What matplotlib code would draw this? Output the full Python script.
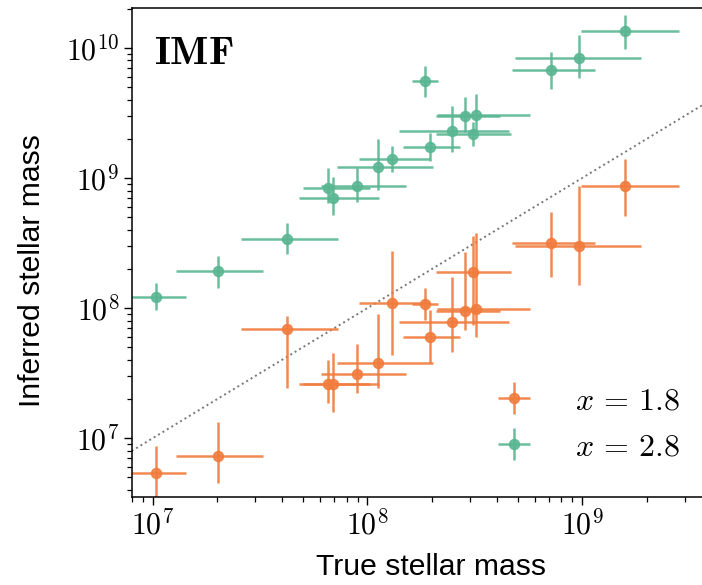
import numpy as np
import matplotlib
matplotlib.use('Agg')
import matplotlib.pyplot as plt
from matplotlib import ticker

plt.rcParams['font.family'] = ['Liberation Sans', 'DejaVu Sans']
plt.rcParams['mathtext.fontset'] = 'cm'

# true stellar mass (shared by both IMF slopes) and its range
true_mass = np.array([1.04e7, 2.01e7, 4.24e7, 6.55e7, 6.95e7, 8.99e7, 1.12e8, 1.30e8, 1.85e8,
                      1.96e8, 2.48e8, 2.86e8, 3.20e8, 3.09e8, 7.17e8, 9.71e8, 1.58e9])
true_lo = np.array([7.6e6, 1.29e7, 2.58e7, 5.02e7, 4.81e7, 6.09e7, 7.26e7, 9.16e7, 1.61e8,
                    1.46e8, 1.41e8, 2.09e8, 2.11e8, 2.09e8, 4.73e8, 4.89e8, 9.82e8])
true_hi = np.array([1.43e7, 3.28e7, 7.27e7, 1.03e8, 1.13e8, 1.52e8, 2.02e8, 1.96e8, 2.13e8,
                    2.71e8, 4.55e8, 4.16e8, 5.70e8, 4.68e8, 1.15e9, 1.87e9, 2.81e9])

# inferred mass, x = 1.8
inf_18 = np.array([5.38e6, 7.35e6, 6.87e7, 2.60e7, 2.60e7, 3.10e7, 3.77e7, 1.09e8, 1.07e8,
                   5.97e7, 7.86e7, 9.50e7, 9.79e7, 1.90e8, 3.15e8, 3.00e8, 8.71e8])
inf_18_lo = np.array([3.07e6, 4.56e6, 2.42e7, 1.86e7, 1.60e7, 2.22e7, 2.42e7, 4.36e7, 8.10e7,
                      3.77e7, 4.58e7, 6.79e7, 5.97e7, 7.42e7, 1.72e8, 1.50e8, 5.10e8])
inf_18_hi = np.array([8.78e6, 1.33e7, 8.70e7, 3.99e7, 4.50e7, 5.27e7, 9.01e7, 2.76e8, 1.43e8,
                      9.67e7, 1.72e8, 2.71e8, 3.75e8, 3.58e8, 5.44e8, 8.67e8, 1.41e9])

# inferred mass, x = 2.8
inf_28 = np.array([1.21e8, 1.94e8, 3.38e8, 8.36e8, 6.97e8, 8.71e8, 1.21e9, 1.40e9, 5.55e9,
                   1.72e9, 2.29e9, 2.99e9, 3.03e9, 2.17e9, 6.74e9, 8.38e9, 1.35e10])
inf_28_lo = np.array([9.67e7, 1.42e8, 2.60e8, 6.38e8, 5.19e8, 6.56e8, 8.07e8, 1.12e9, 4.20e9,
                      1.36e9, 1.59e9, 2.26e9, 2.33e9, 1.76e9, 4.82e9, 5.88e9, 9.72e9])
inf_28_hi = np.array([1.57e8, 2.53e8, 4.53e8, 1.20e9, 1.01e9, 1.20e9, 1.99e9, 1.76e9, 7.23e9,
                      2.22e9, 3.58e9, 4.16e9, 4.39e9, 2.70e9, 9.22e9, 1.25e10, 1.78e10])

orange = '#f07c3e'
green = '#5ab692'

fig = plt.figure(figsize=(7.02, 5.85), dpi=100, facecolor='white')
ax = fig.add_axes([0.1876, 0.1504, 0.8135, 0.8359])

xerr = [true_mass - true_lo, true_hi - true_mass]
ax.plot([8e6, 4e9], [8e6, 4e9], ':', color='#777777', lw=1.4, zorder=1)
ax.errorbar(true_mass, inf_18, xerr=xerr, yerr=[inf_18 - inf_18_lo, inf_18_hi - inf_18],
            fmt='o', color=orange, ms=7.2, elinewidth=1.8, alpha=0.9, capsize=0,
            label=r'$x\,=\,1.8$')
ax.errorbar(true_mass, inf_28, xerr=xerr, yerr=[inf_28 - inf_28_lo, inf_28_hi - inf_28],
            fmt='o', color=green, ms=7.2, elinewidth=1.8, alpha=0.9, capsize=0,
            label=r'$x\,=\,2.8$')

ax.set_xscale('log')
ax.set_yscale('log')
ax.set_xlim(8e6, 3.64e9)
ax.set_ylim(3.54e6, 2.02e10)

fmt = ticker.FuncFormatter(lambda v, p: r'$10^{%d}$' % round(np.log10(v)))
for axis in (ax.xaxis, ax.yaxis):
    axis.set_major_locator(ticker.LogLocator(base=10))
    axis.set_major_formatter(fmt)
    axis.set_minor_locator(ticker.LogLocator(base=10, subs=np.arange(2, 10)))
    axis.set_minor_formatter(ticker.NullFormatter())
ax.tick_params(which='major', length=6, width=1, labelsize=21.5, direction='out', pad=3)
ax.tick_params(which='minor', length=3.5, width=0.9, direction='out')
ax.spines['right'].set_visible(False)
for s in ('left', 'bottom', 'top'):
    ax.spines[s].set_linewidth(1.1)

ax.set_xlabel('True stellar mass', fontsize=21.7)
ax.set_ylabel('Inferred stellar mass', fontsize=21.7)
ax.xaxis.set_label_coords(0.524, -0.115)
ax.yaxis.set_label_coords(-0.15, 0.464)

ax.text(0.039, 0.8855, r'$\mathbf{IMF}$', transform=ax.transAxes, fontsize=29, va='baseline')

leg = ax.legend(loc='lower right', bbox_to_anchor=(0.983, 0.045), borderaxespad=0,
                frameon=False, fontsize=23, handlelength=1.05, handletextpad=1.4,
                labelspacing=0.5)

fig.savefig('out.png', dpi=100)
